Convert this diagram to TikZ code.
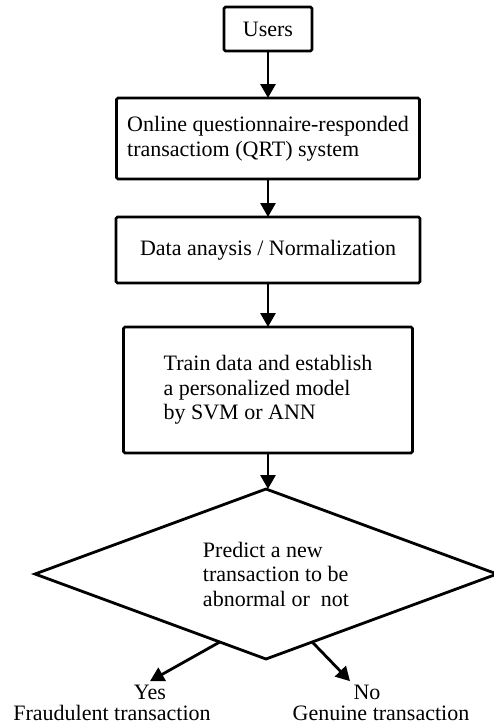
\documentclass[tikz,border=0pt]{standalone}
\usepackage{fontspec}
\setmainfont{Liberation Serif}
\usetikzlibrary{shapes.geometric,arrows.meta,calc}

\begin{document}
\begin{tikzpicture}[x=1pt,y=-1pt,
    font=\fontsize{22}{24.5}\selectfont,
    box/.style={draw,line width=2.8pt,rounded corners=1.5pt,inner sep=0pt,outer sep=0pt},
    decide/.style={draw,diamond,aspect=2.7,line width=2.8pt,inner sep=0pt,outer sep=0pt,
      minimum width=462pt,minimum height=170pt,align=left}]
  \useasboundingbox (0,0) rectangle (494,726);
  \draw
    (268,29) node[box,minimum width=88pt,minimum height=44pt] (users){Users}
    (268,138.5) node[box,minimum width=303pt,minimum height=81pt,align=left] (qrt){Online questionnaire-responded\\transactiom (QRT) system}
    (268,250) node[box,minimum width=304pt,minimum height=66pt] (norm){Data anaysis / Normalization}
    (268,390) node[box,minimum width=289pt,minimum height=126pt,align=left] (train){Train data and establish\\a personalized model\\by SVM or ANN}
    (266,574) node[decide] (predict){\hspace*{20pt}Predict a new\\\hspace*{20pt}transaction to be\\\hspace*{20pt}abnormal or~ not}
    (150,692) node (yes){Yes}
    (112,713) node (fraud){Fraudulent transaction}
    (367,692) node (no){No}
    (381,713) node (genuine){Genuine transaction};
  \coordinate (yesfrom) at ($(predict.south)!0.2!(predict.west)$);
  \coordinate (nofrom) at ($(predict.south)!0.2!(predict.east)$);
  \begin{scope}[line width=2.8pt,-{Triangle[length=14pt,width=15pt]}]
    \draw (users) to (qrt);
    \draw (qrt) to (norm);
    \draw (norm) to (train);
    \draw (train.south) to (train.south |- predict.north);
    \draw (yesfrom) to (yes.north);
    \draw (nofrom) to (no.north west);
  \end{scope}
\end{tikzpicture}
\end{document}
